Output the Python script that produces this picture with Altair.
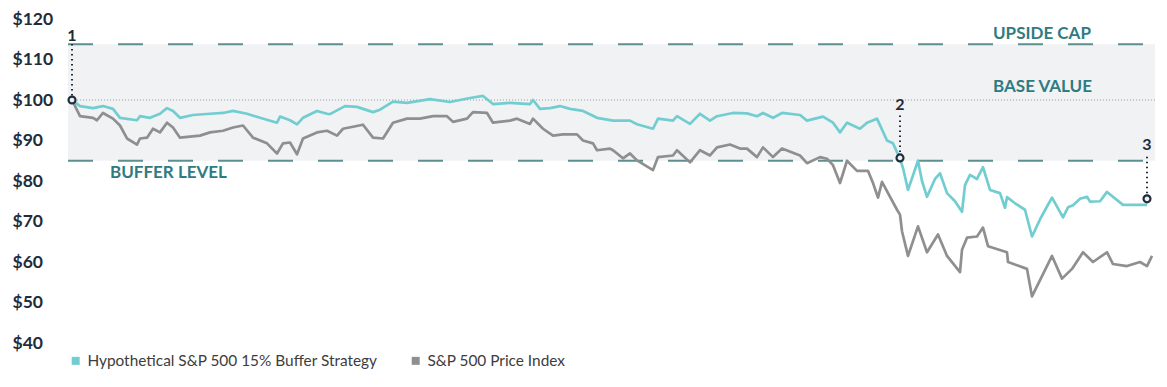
import altair as alt
import pandas as pd

# ---------------- data ----------------
buf_day = [0, 8, 21, 31, 41, 48, 65, 68, 78, 88, 95, 101, 108, 121, 138, 151, 161, 175, 188, 205,
           208, 218, 225, 231, 245, 255, 258, 273, 285, 301, 308, 321, 335, 358, 378, 398, 411, 421,
           438, 458, 461, 468, 478, 488, 498, 511, 525, 541, 558, 565, 581, 586, 601, 605, 618, 628,
           638, 645, 661, 675, 685, 691, 701, 710, 728, 735, 751, 761, 768, 775, 788, 795, 805, 815,
           821, 828, 831, 836, 846, 850, 855, 863, 868, 875, 883, 890, 893, 898, 905, 911, 918, 928,
           933, 935, 943, 953, 960, 968, 975, 980, 991, 996, 1001, 1008, 1015, 1018, 1028, 1035,
           1051, 1075]
buf_val = [100, 98.5, 98, 98.5, 97.8, 95.6, 95, 96, 95.6, 96.6, 98, 97.3, 95.6, 96.3, 96.6, 96.8,
           97.3, 96.6, 95.6, 94.4, 95.9, 95, 94, 95.6, 97.3, 96.6, 96.5, 98.5, 98.3, 97, 97.6, 99.6,
           99.3, 100.2, 99.5, 100.5, 101, 99, 99.3, 99, 100, 97.8, 98, 98.5, 97.8, 97.3, 95.6, 94.9,
           94.9, 94, 92.9, 95.4, 94.9, 96, 94.1, 96.6, 94.9, 96, 96.8, 96.7, 96, 96.8, 95.6, 96.8,
           96.3, 94.9, 95.9, 94.4, 92, 94.4, 92.9, 94.4, 95.4, 90, 89.3, 85.5, 83.2, 77.8, 85, 80,
           76.1, 80.5, 81.9, 77, 75, 72.4, 79, 81.5, 80.5, 83.4, 77.8, 77, 73.4, 76, 74.5, 72.9,
           66.3, 70.5, 73.7, 75.9, 71, 73.5, 74, 75.6, 76.1, 74.9, 75, 77.3, 74.1, 74.1]

sp_day = [0, 8, 21, 25, 31, 41, 48, 55, 65, 68, 75, 81, 88, 95, 101, 108, 128, 138, 151, 161, 171,
          181, 195, 205, 211, 218, 225, 231, 245, 255, 265, 271, 291, 301, 311, 321, 335, 348, 361,
          375, 381, 395, 401, 415, 421, 438, 445, 458, 461, 471, 481, 491, 505, 511, 521, 525, 538,
          541, 551, 558, 565, 581, 586, 601, 605, 618, 628, 638, 645, 658, 668, 675, 685, 691, 701,
          710, 728, 735, 748, 755, 761, 768, 775, 785, 796, 801, 806, 810, 825, 828, 830, 836, 846,
          855, 866, 875, 888, 890, 895, 905, 911, 916, 935, 936, 955, 960, 980, 990, 1000, 1011,
          1021, 1035, 1041, 1055, 1068, 1075, 1080]
sp_val = [100, 96, 95.6, 95, 96.8, 95.4, 93.7, 90.5, 89, 90.5, 90.7, 92.9, 92, 94.4, 93.2, 90.7,
          91.2, 92, 92.4, 93.2, 93.7, 90.7, 89.3, 86.8, 89.3, 89.5, 86.6, 90.5, 92, 92.4, 91.2,
          92.9, 93.9, 90.7, 90.5, 94.4, 95.4, 95.4, 96, 96, 94.6, 95.4, 97, 96.8, 94.4, 94.9, 95.4,
          94.1, 95.4, 92.9, 91.2, 91.5, 91.5, 90, 89.3, 87.6, 88, 87.6, 85.6, 86.8, 85.1, 82.7,
          85.9, 86.3, 87.6, 84.6, 87.6, 86.3, 88.3, 89, 88, 88, 85.9, 88.3, 85.9, 88, 86.3, 84.4,
          85.9, 85.5, 83.9, 79.5, 85, 82.5, 82.5, 79.5, 75.9, 79.8, 72.9, 71.7, 67.6, 61.5, 68.8,
          62.4, 66.8, 61.5, 57.5, 63, 66, 66.3, 68.5, 63.9, 62.4, 60, 58.3, 51.5, 61.5, 55.9, 58.3,
          62.4, 60, 62.4, 59.5, 59, 60, 59, 61.5]

series_names = ["Hypothetical S&P 500 15% Buffer Strategy", "S&P 500 Price Index"]
series_colors = ["#72cdd1", "#8f8f8f"]

y_ticks = [40, 50, 60, 70, 80, 90, 100, 110, 120]

level_names = ["UPSIDE CAP", "BASE VALUE", "BUFFER LEVEL"]
level_values = [113.75, 100, 85]

# numbered markers: day, value at circle, label value, dotted line from/to
mark_labels = ["1", "2", "3"]
mark_day = [0, 828, 1075]
mark_val = [100, 85.7, 75.6]
mark_label_val = [115.8, 98.8, 88.9]
mark_line_top = [113.8, 96.2, 86.0]
mark_line_bot = [101.0, 86.6, 76.6]

# level text placement (data coords)
level_text_day = [921, 921, 38]
level_text_val = [116.4, 103.3, 82.0]

# ---------------- build tables ----------------
lines = pd.concat([
    pd.DataFrame({"day": buf_day, "value": buf_val, "series": series_names[0]}),
    pd.DataFrame({"day": sp_day, "value": sp_val, "series": series_names[1]}),
])
markers = pd.DataFrame({"label": mark_labels, "day": mark_day, "value": mark_val,
                        "lv": mark_label_val, "top": mark_line_top, "bot": mark_line_bot})
levels = pd.DataFrame({"name": level_names, "value": level_values,
                       "tday": level_text_day, "tval": level_text_val})

W, H = 1087, 324
xs = alt.Scale(domain=[-4, 1083], nice=False)
ys = alt.Scale(domain=[40, 120], nice=False, zero=False)
X = lambda f: alt.X(f, type="quantitative", scale=xs, axis=None)
Y = lambda f: alt.Y(f, type="quantitative", scale=ys)

band = alt.Chart(levels).transform_aggregate(
    top="max(value)", bot="min(value)"
).mark_rect(color="#f1f2f4").encode(
    x=alt.value(0), x2=alt.value(W),
    y=alt.Y("top:Q", scale=ys, axis=alt.Axis(
        values=y_ticks, labelExpr="'$' + datum.value", domain=False, ticks=False, tickSize=0,
        grid=False, labelAlign="left", labelPadding=56, labelFont="Lato", labelFontWeight="bold",
        labelFontSize=17.5, labelColor="#1f2c3a", title=None)),
    y2="bot:Q",
)

dash_rules = alt.Chart(levels).transform_filter(
    "datum.name != 'BASE VALUE'"
).mark_rule(color="#5d8e90", strokeWidth=2, strokeDash=[25, 25]).encode(
    x=alt.value(0), x2=alt.value(W), y=Y("value")
)

base_rule = alt.Chart(levels).transform_filter(
    "datum.name == 'BASE VALUE'"
).mark_rule(color="#9a9a9a", strokeWidth=1, strokeDash=[1, 2]).encode(
    x=alt.value(0), x2=alt.value(W), y=Y("value")
)

line_layer = alt.Chart(lines).mark_line(strokeWidth=2.7, strokeJoin="round").encode(
    x=X("day"),
    y=Y("value"),
    color=alt.Color("series:N", scale=alt.Scale(domain=series_names, range=series_colors),
                    sort=series_names,
                    legend=alt.Legend(title=None, orient="none", legendX=0, legendY=334,
                                      direction="horizontal", symbolType="square", symbolSize=16,
                                      symbolStrokeWidth=4, labelFont="Lato", labelFontSize=15.4,
                                      labelColor="#3d3d3d", labelOffset=4, columnPadding=27,
                                      labelLimit=400, padding=0)),
)

vdots = alt.Chart(markers).mark_rule(color="#1f2c3a", strokeWidth=2, strokeDash=[1.5, 3.5]).encode(
    x=X("day"), y=Y("top"), y2="bot:Q"
)

circles = alt.Chart(markers).mark_point(shape="circle", filled=False, fill="#eef0f2", fillOpacity=1,
                                        stroke="#1f2c3a", strokeWidth=2.2, size=48, opacity=1).encode(
    x=X("day"), y=Y("value")
)

numbers = alt.Chart(markers).mark_text(font="Lato", fontWeight="bold", fontSize=16,
                                       color="#1f2c3a", align="center", baseline="middle").encode(
    x=X("day"), y=Y("lv"), text="label:N"
)

level_text = alt.Chart(levels).mark_text(font="Lato", fontWeight="bold", fontSize=17,
                                         color="#2f7b82", align="left", baseline="middle").encode(
    x=X("tday"), y=Y("tval"), text="name:N"
)

chart = alt.layer(band, dash_rules, base_rule, line_layer, vdots, circles, numbers, level_text).properties(
    width=W, height=H,
    background="white",
    autosize=alt.AutoSizeParams(type="none"),
    padding={"left": 60, "top": 11, "right": 4, "bottom": 33},
).configure_view(stroke="transparent", strokeWidth=0).configure_axis(
    domain=False, grid=False, ticks=False
)

chart.save("out.html", embed_options={"renderer": "svg", "actions": False})
